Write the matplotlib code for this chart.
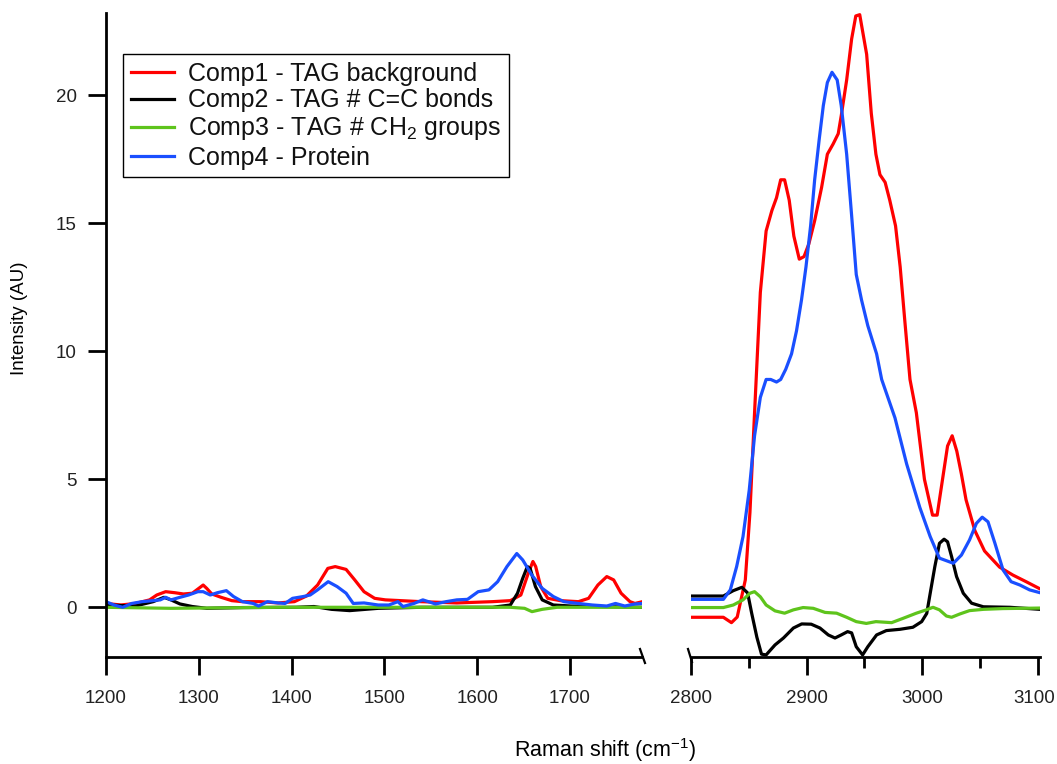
import matplotlib
matplotlib.use("Agg")
import matplotlib.pyplot as plt
import matplotlib.transforms as mtransforms
from matplotlib.ticker import FixedLocator

plt.rcParams["font.family"] = ["Liberation Sans", "DejaVu Sans"]
plt.rcParams["mathtext.fontset"] = "custom"
plt.rcParams["mathtext.rm"] = "Liberation Sans"
plt.rcParams["mathtext.default"] = "regular"

# ---------------------------------------------------------------------------
# Fingerprint region (1200-1780 cm-1)
# ---------------------------------------------------------------------------
fp_x_red = [1200, 1216, 1231.6, 1247, 1254.7, 1264.3, 1274, 1283.5, 1293, 1300,
            1304.7, 1308.5, 1314, 1324, 1335.5, 1347, 1366, 1385.5, 1403, 1416,
            1428, 1439, 1447, 1458.7, 1468, 1478, 1489.5, 1501, 1539.5, 1578,
            1616.5, 1635.7, 1647, 1655, 1660, 1663, 1668.4, 1676, 1689.6, 1709,
            1720, 1730, 1739.6, 1747, 1755, 1764.6, 1770, 1778]
fp_y_red = [0.15, 0.09, 0.15, 0.29, 0.48, 0.61, 0.57, 0.52, 0.55, 0.74,
            0.87, 0.74, 0.52, 0.39, 0.26, 0.22, 0.22, 0.17, 0.22, 0.44,
            0.87, 1.52, 1.59, 1.48, 1.07, 0.61, 0.35, 0.29, 0.22, 0.17,
            0.22, 0.26, 0.48, 1.33, 1.79, 1.59, 0.81, 0.35, 0.26, 0.22,
            0.35, 0.87, 1.2, 1.07, 0.55, 0.22, 0.15, 0.22]

fp_x_black = [1200, 1231.6, 1250.8, 1262.4, 1270, 1279.7, 1293, 1308.5, 1347,
              1404.8, 1424, 1443, 1462.5, 1493.3, 1539.5, 1616.5, 1635.7,
              1643.4, 1649, 1654, 1657, 1662.7, 1670, 1682, 1701, 1732, 1778]
fp_y_black = [0.09, 0.05, 0.22, 0.39, 0.29, 0.13, 0.03, -0.04, -0.01,
              0.0, 0.03, -0.08, -0.13, -0.04, 0.0, 0.0, 0.09,
              0.55, 1.13, 1.59, 1.52, 0.81, 0.29, 0.09, 0.05, 0.03, 0.0]

fp_x_green = [1200, 1270, 1385.5, 1635.7, 1651, 1659, 1670, 1686, 1778]
fp_y_green = [0.0, -0.04, 0.0, 0.0, -0.04, -0.17, -0.08, 0.0, 0.0]

fp_x_blue = [1200, 1208.5, 1218, 1227.7, 1239, 1250.8, 1258.5, 1264.3, 1270,
             1279.7, 1289, 1299, 1304.7, 1312.4, 1320, 1329.7, 1337.4, 1347,
             1358.6, 1364.4, 1374, 1385.5, 1393, 1401, 1412.5, 1420, 1427.9,
             1439.4, 1449, 1458.7, 1466.4, 1478, 1493.3, 1504.8, 1514.5, 1520,
             1531.8, 1541.4, 1555, 1566.4, 1578, 1589.5, 1601, 1612.6, 1622,
             1632, 1642.6, 1649, 1658.8, 1670, 1682, 1693.4, 1708.8, 1724,
             1739.6, 1749, 1759, 1770, 1778]
fp_y_blue = [0.22, 0.09, 0.0, 0.15, 0.22, 0.26, 0.29, 0.39, 0.29,
             0.39, 0.48, 0.61, 0.61, 0.48, 0.57, 0.65, 0.42, 0.22,
             0.15, 0.05, 0.22, 0.17, 0.15, 0.35, 0.42, 0.48, 0.68,
             1.0, 0.81, 0.55, 0.15, 0.17, 0.09, 0.09, 0.22, 0.03,
             0.15, 0.29, 0.13, 0.22, 0.29, 0.31, 0.61, 0.68, 1.0,
             1.59, 2.1, 1.85, 1.26, 0.74, 0.42, 0.22, 0.15, 0.09,
             0.05, 0.15, 0.05, 0.13, 0.15]

# ---------------------------------------------------------------------------
# High-wavenumber region (2800-3100 cm-1)
# ---------------------------------------------------------------------------
hw_x_red = [2800, 2828, 2835, 2840, 2847, 2851, 2855, 2860, 2865, 2870, 2874,
            2877.6, 2881, 2885, 2889, 2893.7, 2897.8, 2902, 2907, 2913, 2918,
            2923, 2927.4, 2930, 2934.7, 2939, 2942.6, 2946, 2952, 2956, 2960,
            2963.5, 2968, 2972, 2977, 2981, 2985, 2989.5, 2995, 3002, 3009,
            3013, 3018, 3022, 3026, 3030, 3034, 3038, 3045.6, 3054, 3067,
            3078.5, 3090, 3102]
hw_y_red = [-0.39, -0.39, -0.6, -0.38, 1.07, 3.7, 7.6, 12.3, 14.7, 15.5, 16.0,
            16.7, 16.7, 15.9, 14.5, 13.6, 13.7, 14.2, 15.1, 16.4, 17.7,
            18.1, 18.5, 19.2, 20.6, 22.2, 23.1, 23.15, 21.6, 19.3, 17.7,
            16.9, 16.6, 15.9, 14.9, 13.3, 11.2, 8.9, 7.6, 5.0, 3.6,
            3.6, 5.1, 6.3, 6.7, 6.1, 5.2, 4.2, 3.0, 2.2, 1.57,
            1.26, 1.0, 0.72]

hw_x_black = [2800, 2828, 2836.6, 2844, 2849, 2852.5, 2857, 2861, 2865, 2872.7,
              2880, 2888.6, 2895.8, 2904, 2911.6, 2918.8, 2924.6, 2930, 2935.5,
              2939, 2943, 2948.5, 2953, 2960.6, 2969, 2980.8, 2992, 2999.6,
              3004, 3007, 3011, 3015, 3019, 3022, 3025.5, 3029.8, 3035.6,
              3042.8, 3053, 3076, 3102]
hw_y_black = [0.44, 0.44, 0.65, 0.78, 0.56, -0.23, -1.17, -1.83, -1.86, -1.47,
              -1.2, -0.81, -0.65, -0.66, -0.81, -1.08, -1.2, -1.08, -0.95,
              -1.0, -1.54, -1.86, -1.54, -1.08, -0.91, -0.86, -0.78, -0.56,
              -0.24, 0.55, 1.59, 2.5, 2.66, 2.56, 1.98, 1.2, 0.55,
              0.16, 0.02, 0.0, -0.08]

hw_x_green = [2800, 2828, 2836.6, 2845, 2851, 2855, 2860, 2865, 2872.7, 2881,
              2888.6, 2897, 2905.8, 2916, 2926, 2934.7, 2943, 2951.7, 2960,
              2973.6, 2983.6, 2995, 3003.6, 3009.4, 3015, 3021, 3025.5,
              3032.7, 3041, 3053, 3070, 3102]
hw_y_green = [-0.01, -0.01, 0.09, 0.29, 0.55, 0.61, 0.41, 0.09, -0.14, -0.23,
              -0.1, -0.01, -0.04, -0.2, -0.23, -0.39, -0.56, -0.63, -0.56,
              -0.6, -0.43, -0.23, -0.1, 0.0, -0.1, -0.34, -0.39,
              -0.26, -0.13, -0.08, -0.05, -0.03]

hw_x_blue = [2800, 2828, 2834, 2839.5, 2845, 2850.4, 2855, 2860, 2865, 2869,
             2874, 2877.6, 2882, 2887, 2891.3, 2895.6, 2899.5, 2903.5, 2907,
             2911, 2914.5, 2918, 2922, 2926.5, 2930, 2934.7, 2939, 2943,
             2947.6, 2953, 2960.6, 2965, 2976.5, 2986.6, 2998, 3007, 3015,
             3027, 3034, 3041, 3047, 3052, 3057, 3063, 3070, 3077, 3084.6,
             3093, 3102]
hw_y_blue = [0.31, 0.31, 0.68, 1.59, 2.76, 4.58, 6.7, 8.2, 8.9, 8.9,
             8.8, 8.9, 9.3, 9.9, 10.8, 12.0, 13.3, 14.9, 16.7,
             18.3, 19.6, 20.5, 20.9, 20.6, 19.6, 17.7, 15.3, 13.0,
             12.0, 11.0, 9.9, 8.9, 7.4, 5.6, 3.9, 2.76, 1.92,
             1.72, 2.04, 2.63, 3.28, 3.52, 3.34, 2.5, 1.46, 1.0, 0.87,
             0.68, 0.57]

labels = ["Comp1 - TAG background", "Comp2 - TAG # C=C bonds",
          "Comp3 - TAG # CH$_2$ groups", "Comp4 - Protein"]
colors = ["#ff0000", "#000000", "#5ec41c", "#1a4fff"]

W, H = 1057, 764
fig = plt.figure(figsize=(W / 100, H / 100), dpi=100)

y_lo, y_hi = -1.93, 23.2
ax_l = fig.add_axes([106 / W, 1 - 656.7 / H, 535.5 / W, 643.3 / H])
ax_r = fig.add_axes([691 / W, 1 - 656.7 / H, 349 / W, 643.3 / H])

fp = [(fp_x_red, fp_y_red), (fp_x_black, fp_y_black),
      (fp_x_green, fp_y_green), (fp_x_blue, fp_y_blue)]
hw = [(hw_x_red, hw_y_red), (hw_x_black, hw_y_black),
      (hw_x_green, hw_y_green), (hw_x_blue, hw_y_blue)]

for (x, y), c in zip(fp, colors):
    ax_l.plot(x, y, color=c, lw=2.3, solid_joinstyle="round")
handles = []
for (x, y), c, lab in zip(hw, colors, labels):
    h, = ax_r.plot(x, y, color=c, lw=2.3, solid_joinstyle="round", label=lab)
    handles.append(h)

ax_l.set_xlim(1200, 1777)
ax_r.set_xlim(2800, 3102)
for ax in (ax_l, ax_r):
    ax.set_ylim(y_lo, y_hi)
    ax.spines["top"].set_visible(False)
    ax.spines["right"].set_visible(False)
    for s in ax.spines.values():
        s.set_linewidth(2)
    ax.tick_params(axis="x", length=13, width=2, labelsize=13.5, pad=11,
                   direction="out", labelcolor="#222222")
    ax.tick_params(axis="y", length=13, width=2, labelsize=13.5, pad=8,
                   direction="out", labelcolor="#222222")

ax_l.set_xticks([1200, 1300, 1400, 1500, 1600, 1700])
ax_l.set_yticks([0, 5, 10, 15, 20])

ax_r.spines["left"].set_visible(False)
ax_r.set_yticks([])
ax_r.set_xticks([2800, 2900, 3000, 3100])
ax_r.xaxis.set_minor_locator(FixedLocator([2850, 2950, 3050]))
ax_r.tick_params(axis="x", which="minor", length=8, width=2)

# keep the last tick label inside the canvas
last = ax_r.get_xticklabels()[-1]
last.set_transform(last.get_transform() +
                   mtransforms.ScaledTranslation(-3 / 100, 0, fig.dpi_scale_trans))


# axis-break slashes
def px_line(x0, y0, x1, y1):
    fig.add_artist(plt.Line2D([x0 / W, x1 / W], [1 - y0 / H, 1 - y1 / H],
                              color="black", lw=1.6, transform=fig.transFigure))


px_line(640, 649, 645, 663)
px_line(688, 649, 692, 662)

leg = fig.legend(handles=handles, loc="upper left",
                 bbox_to_anchor=(123 / W, 1 - 54 / H), borderaxespad=0,
                 fontsize=18, frameon=True, fancybox=False, edgecolor="black",
                 framealpha=1, handlelength=1.75, handletextpad=0.55,
                 labelspacing=0.12, borderpad=0.3)
leg.get_frame().set_linewidth(1.0)
for t in leg.get_texts():
    t.set_color("#111111")

fig.text(20 / W, 1 - 318 / H, "Intensity (AU)", rotation=90,
         ha="center", va="center", fontsize=13.5)
fig.text(605 / W, 1 - 750 / H, "Raman shift (cm$^{-1}$)",
         ha="center", va="center", fontsize=15.5)

fig.savefig("out.png", dpi=100)
